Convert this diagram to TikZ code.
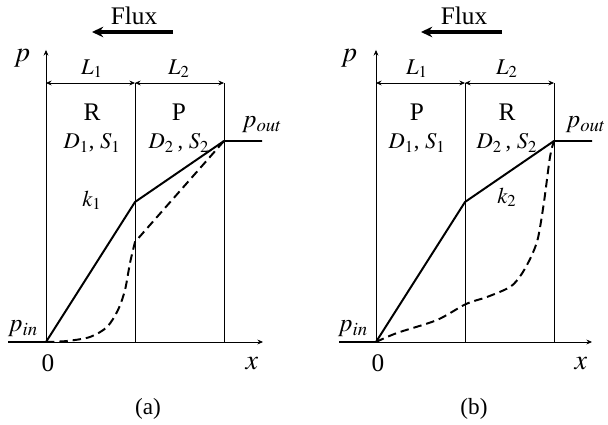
\documentclass[tikz,border=0pt]{standalone}
\usepackage{mathptmx}
\usepackage[no-math]{fontspec}
\setmainfont{Liberation Serif}
\usetikzlibrary{arrows.meta}

\begin{document}
\begin{tikzpicture}[x=0.025cm,y=0.025cm,>={Stealth[length=4pt,width=3.5pt]},
  thinline/.style={line width=0.55pt},
  prof/.style={line width=1.4pt},
  dashprof/.style={line width=1.4pt,dash pattern=on 6pt off 3.5pt},
  flux/.style={line width=2.3pt,-{Stealth[length=8pt,width=7.5pt]}},
  lbl/.style={font=\fontsize{16}{18}\selectfont,inner sep=0pt},
  mid/.style={font=\fontsize{18}{20}\selectfont,inner sep=0pt},
  axl/.style={font=\fontsize{20}{22}\selectfont,inner sep=0pt},
  big/.style={font=\fontsize{18}{20}\selectfont,inner sep=0pt},
  captxt/.style={font=\fontsize{16.5}{18}\selectfont,inner sep=0pt}]
\useasboundingbox (0,0) rectangle (608,425);
% panel (a)
\begin{scope}[shift={(46,83)}]
\coordinate (Oa) at (0,0);
\coordinate (Ya) at (0,292);
\coordinate (Wa) at (-38,0);
\coordinate (Xa) at (217,0);
\coordinate (Ta) at (0,259);
\coordinate (Ma) at (89,259);
\coordinate (Ea) at (178,259);
\coordinate (Mba) at (89,0);
\coordinate (Eba) at (178,0);
\coordinate (Ka) at (89,140);
\coordinate (Pa) at (178,201);
\coordinate (Qa) at (216,201);
\coordinate (FRa) at (127,310);
\coordinate (FLa) at (46,310);
\draw[thinline,->] (Oa) -- (Ya);
\draw[thinline,->] (Wa) -- (Xa);
\draw[thinline] (Mba) -- (Ma);
\draw[thinline] (Eba) -- (Ea);
\draw[thinline,<->] (Ta) -- (Ma);
\draw[thinline,<->] (Ma) -- (Ea);
\draw[prof] (Wa) -- (Oa);
\draw[prof] (Oa) -- (Ka) -- (Pa) -- (Qa);
\draw[dashprof] plot[smooth] coordinates {(0,0) (21,1) (44,5) (61,15) (72,32) (79,52) (84,79) (89,100)} -- (Pa);
\draw[flux] (FRa) -- (FLa);
\node[big] (Fa) at (88,326) {Flux};
\node[axl] (pa) at (-24,284) {$p$};
\node[lbl] (L1a) at (46,273) {$L_1$};
\node[lbl] (L2a) at (133,273) {$L_2$};
\node[mid] (Ra) at (46,230) {R};
\node[mid] (PPa) at (133,230) {P};
\node[lbl] (D1a) at (46,199) {$D_1$, $S_1$};
\node[lbl] (D2a) at (133,199) {$D_2$\,, $S_2$};
\node[lbl] (k1a) at (46,142) {$k_1$};
\node[mid] (pouta) at (216,217) {$p_{out}$};
\node[mid] (pina) at (-23,13) {$p_{in}$};
\node[mid] (za) at (2,-21) {0};
\node[axl] (xa) at (206,-22) {$x$};
\node[captxt] (capa) at (102,-67) {(a)};
\end{scope}
% panel (b)
\begin{scope}[shift={(376,83)}]
\coordinate (Ob) at (0,0);
\coordinate (Yb) at (0,292);
\coordinate (Wb) at (-37,0);
\coordinate (Xb) at (216,0);
\coordinate (Tb) at (0,259);
\coordinate (Mb) at (89,259);
\coordinate (Eb) at (178,259);
\coordinate (Mbb) at (89,0);
\coordinate (Ebb) at (178,0);
\coordinate (Kb) at (89,140);
\coordinate (Pb) at (178,201);
\coordinate (Qb) at (216,201);
\coordinate (FRb) at (126,310);
\coordinate (FLb) at (45,310);
\draw[thinline,->] (Ob) -- (Yb);
\draw[thinline,->] (Wb) -- (Xb);
\draw[thinline] (Mbb) -- (Mb);
\draw[thinline] (Ebb) -- (Eb);
\draw[thinline,<->] (Tb) -- (Mb);
\draw[thinline,<->] (Mb) -- (Eb);
\draw[prof] (Wb) -- (Ob);
\draw[prof] (Ob) -- (Kb) -- (Pb) -- (Qb);
\draw[dashprof] plot[smooth] coordinates {(0,0) (21,9) (61,22) (90,38) (111,45) (134,55) (145,67) (155,85) (162,104) (168,140) (174,185) (178,201)};
\draw[flux] (FRb) -- (FLb);
\node[big] (Fb) at (88,326) {Flux};
\node[axl] (pb) at (-27,284) {$p$};
\node[lbl] (L1b) at (41,273) {$L_1$};
\node[lbl] (L2b) at (131,273) {$L_2$};
\node[mid] (PPb) at (41,230) {P};
\node[mid] (Rb) at (131,230) {R};
\node[lbl] (D1b) at (41,199) {$D_1$, $S_1$};
\node[lbl] (D2b) at (131,199) {$D_2$\,, $S_2$};
\node[lbl] (k2b) at (131,145) {$k_2$};
\node[mid,anchor=east] (poutb) at (230,217) {$p_{out}$};
\node[mid] (pinb) at (-23,13) {$p_{in}$};
\node[mid] (zb) at (2,-21) {0};
\node[axl] (xb) at (205,-22) {$x$};
\node[captxt] (capb) at (98,-67) {(b)};
\end{scope}
\end{tikzpicture}
\end{document}
